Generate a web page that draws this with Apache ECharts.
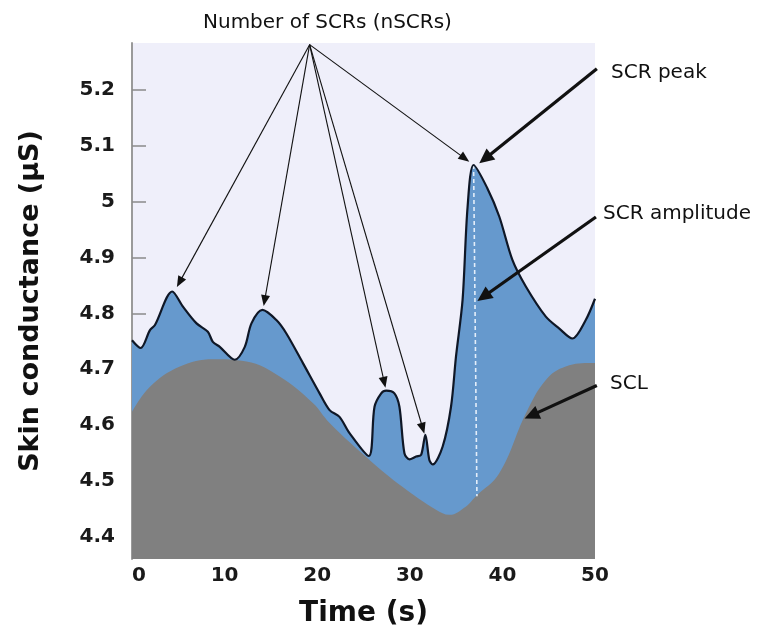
<!DOCTYPE html>
<html>
<head>
<meta charset="utf-8">
<title>Skin conductance</title>
<script src="https://cdn.jsdelivr.net/npm/echarts@6/dist/echarts.min.js"></script>
<style>
  html, body { margin: 0; padding: 0; background: #ffffff; }
  #chart { width: 761px; height: 633px; }
</style>
</head>
<body>
<div id="chart"></div>
<script>
// Phasic signal (skin conductance, µS) sampled along time (s)
const scrTime = [0, 0.94, 1.94, 2.48, 4.34, 5.5, 6.97, 8.19, 8.73, 9.48, 11.1, 12.18, 12.9, 14.08,
  15.59, 16.67, 18.46, 20.26, 21.34, 22.41, 23.49, 25.57, 26.19, 26.91, 27.45, 28.34, 28.88,
  29.42, 29.96, 30.68, 31.22, 31.68, 32.11, 32.47, 33.55, 34.45, 34.99, 35.7, 36.24, 36.89,
  38.36, 39.66, 41.09, 42.53, 44.69, 46.12, 47.56, 49.0, 50];
const scrValue = [4.752, 4.738, 4.770, 4.779, 4.839, 4.812, 4.782, 4.767, 4.749, 4.740, 4.717,
  4.740, 4.782, 4.806, 4.788, 4.764, 4.711, 4.657, 4.627, 4.615, 4.586, 4.545, 4.633, 4.657,
  4.662, 4.657, 4.633, 4.550, 4.539, 4.544, 4.547, 4.583, 4.538, 4.530, 4.562, 4.633, 4.723,
  4.824, 4.990, 5.065, 5.024, 4.973, 4.895, 4.848, 4.794, 4.773, 4.755, 4.788, 4.826];

// Tonic level (SCL)
const sclTime = [0, 1.94, 5.17, 8.73, 12.36, 15.95, 19.5, 21.34, 25.65, 29.2, 32.83, 34.27,
  36.07, 37.14, 39.66, 42.53, 44.69, 46.84, 49.71, 50];
const sclValue = [4.624, 4.669, 4.705, 4.718, 4.714, 4.687, 4.640, 4.604, 4.538, 4.490, 4.449,
  4.440, 4.455, 4.473, 4.514, 4.621, 4.681, 4.705, 4.711, 4.711];

// Amplitude of the largest response: from the tonic level up to the peak
const amplitudeTime = [36.89, 37.25];
const amplitudeValue = [5.065, 4.473];

const yTicks = [4.4, 4.5, 4.6, 4.7, 4.8, 4.9, 5.0, 5.1, 5.2];

// Annotation arrows in data units: [fromTime, fromValue, tipTime, tipValue]
const nscrArrows = [
  [19.18, 5.28, 4.85, 4.847],
  [19.18, 5.28, 14.22, 4.813],
  [19.18, 5.28, 27.37, 4.667],
  [19.18, 5.28, 31.57, 4.585],
  [19.18, 5.28, 36.42, 5.071]
];
const peakArrow = [50.2, 5.237, 37.5, 5.068];
const amplitudeArrow = [50.1, 4.972, 37.3, 4.822];
const sclArrow = [50.2, 4.671, 42.4, 4.612];

const pairs = (xs, ys) => xs.map((x, i) => [x, ys[i]]);

const chart = echarts.init(document.getElementById('chart'), null, { renderer: 'canvas' });

const tickFont = { fontFamily: 'DejaVu Sans', fontWeight: 'bold', fontSize: 20, color: '#1a1a1a' };
const noteFont = { fontFamily: 'DejaVu Sans', fontSize: 20, fill: '#111111' };

chart.setOption({
  animation: false,
  backgroundColor: '#ffffff',
  grid: {
    left: 132, right: 166, top: 43, bottom: 74,
    show: true, backgroundColor: '#efeffa', borderWidth: 0
  },
  xAxis: {
    type: 'value', min: 0, max: 50, interval: 10,
    name: 'Time (s)', nameLocation: 'middle', nameGap: 41,
    nameTextStyle: { fontFamily: 'DejaVu Sans', fontWeight: 'bold', fontSize: 28, color: '#111' },
    axisLine: { show: false }, axisTick: { show: false }, splitLine: { show: false },
    axisLabel: Object.assign({ margin: 7, alignMinLabel: 'left' }, tickFont)
  },
  yAxis: {
    type: 'value', min: 4.361, max: 5.283,
    name: 'Skin conductance (µS)', nameLocation: 'middle', nameGap: 88,
    nameTextStyle: { fontFamily: 'DejaVu Sans', fontWeight: 'bold', fontSize: 27, color: '#111' },
    axisLine: { show: true, lineStyle: { color: '#9a9a9a', width: 2 } },
    axisTick: { show: true, inside: true, length: 14, customValues: yTicks,
      lineStyle: { color: '#8a8a8a', width: 1.5 } },
    splitLine: { show: false },
    axisLabel: Object.assign({
      margin: 17, customValues: yTicks,
      formatter: v => String(Number(v.toFixed(1)))
    }, tickFont)
  },
  series: [
    {
      name: 'SCR area', type: 'line', data: pairs(scrTime, scrValue),
      smooth: 0.3, showSymbol: false, z: 1,
      lineStyle: { width: 0 },
      areaStyle: { color: '#6699cd', opacity: 1, origin: 'start' }
    },
    {
      name: 'SCL', type: 'line', data: pairs(sclTime, sclValue),
      smooth: 0.4, showSymbol: false, z: 2,
      lineStyle: { width: 0 },
      areaStyle: { color: '#808080', opacity: 1, origin: 'start' }
    },
    {
      name: 'SCR amplitude', type: 'line', data: pairs(amplitudeTime, amplitudeValue),
      showSymbol: false, z: 3,
      lineStyle: { color: 'rgba(235,242,252,0.95)', width: 1.6, type: [4, 3] }
    },
    {
      name: 'SCR', type: 'line', data: pairs(scrTime, scrValue),
      smooth: 0.3, showSymbol: false, z: 4,
      lineStyle: { color: '#0f1726', width: 2.2 }
    }
  ]
});

// Arrow = shaft + filled triangular head, placed through the grid's coordinate system
function arrow(a, width, headLen, headWidth) {
  const p0 = chart.convertToPixel({ gridIndex: 0 }, [a[0], a[1]]);
  const p1 = chart.convertToPixel({ gridIndex: 0 }, [a[2], a[3]]);
  const dx = p1[0] - p0[0], dy = p1[1] - p0[1];
  const len = Math.hypot(dx, dy);
  const ux = dx / len, uy = dy / len;
  const bx = p1[0] - ux * headLen, by = p1[1] - uy * headLen;
  const nx = -uy * headWidth / 2, ny = ux * headWidth / 2;
  return [
    {
      type: 'line', z: 50, silent: true,
      shape: { x1: p0[0], y1: p0[1], x2: bx + ux * 2, y2: by + uy * 2 },
      style: { stroke: '#111111', lineWidth: width }
    },
    {
      type: 'polygon', z: 50, silent: true,
      shape: { points: [[p1[0], p1[1]], [bx + nx, by + ny], [bx - nx, by - ny]] },
      style: { fill: '#111111' }
    }
  ];
}

const arrows = [];
nscrArrows.forEach(a => arrows.push(...arrow(a, 1.1, 11, 9)));
[peakArrow, amplitudeArrow, sclArrow].forEach(a => arrows.push(...arrow(a, 3.2, 15, 14)));

chart.setOption({
  graphic: [
    { type: 'text', left: 203, top: 13, style: Object.assign({ text: 'Number of SCRs (nSCRs)' }, noteFont) },
    { type: 'text', left: 611, top: 63, style: Object.assign({ text: 'SCR peak' }, noteFont) },
    { type: 'text', left: 603, top: 204, style: Object.assign({ text: 'SCR amplitude' }, noteFont) },
    { type: 'text', left: 610, top: 374, style: Object.assign({ text: 'SCL' }, noteFont) }
  ].concat(arrows)
});
</script>
</body>
</html>
